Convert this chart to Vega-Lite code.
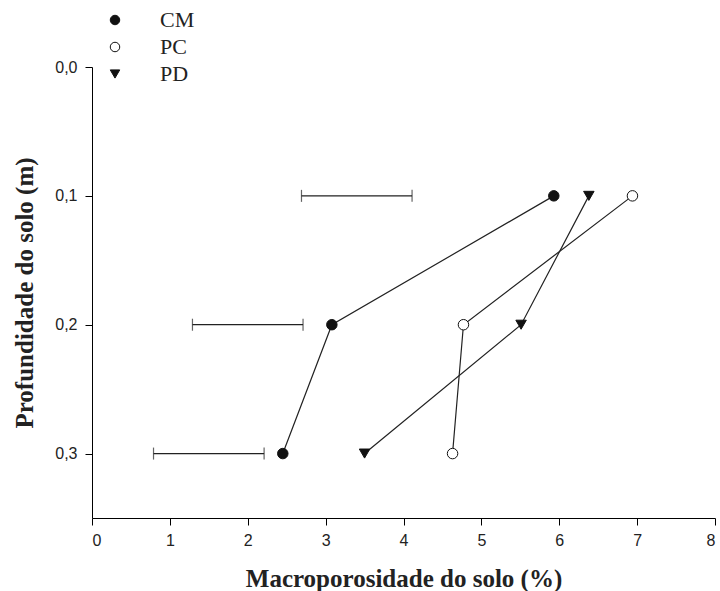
{
  "$schema": "https://vega.github.io/schema/vega-lite/v6.json",
  "width": 623,
  "height": 451,
  "autosize": {"type": "none"},
  "padding": {"left": 92, "top": 67, "right": 5, "bottom": 73},
  "background": "white",
  "config": {
    "view": {"stroke": null},
    "axis": {
      "grid": false,
      "domainColor": "black",
      "tickColor": "black",
      "tickSize": 7,
      "labelFont": "Liberation Sans",
      "labelFontSize": 16,
      "labelColor": "#222",
      "titleFont": "Liberation Serif",
      "titleFontSize": 25,
      "titleFontWeight": "bold",
      "titleColor": "#222"
    }
  },
  "datasets": {
    "pts": [
      {"trat": "CM", "prof": 0.1, "macro": 5.93},
      {"trat": "CM", "prof": 0.2, "macro": 3.08},
      {"trat": "CM", "prof": 0.3, "macro": 2.45},
      {"trat": "PC", "prof": 0.1, "macro": 6.94},
      {"trat": "PC", "prof": 0.2, "macro": 4.77},
      {"trat": "PC", "prof": 0.3, "macro": 4.63},
      {"trat": "PD", "prof": 0.1, "macro": 6.38},
      {"trat": "PD", "prof": 0.2, "macro": 5.51},
      {"trat": "PD", "prof": 0.3, "macro": 3.5}
    ],
    "dms": [
      {"prof": 0.1, "lo": 2.69, "hi": 4.11},
      {"prof": 0.2, "lo": 1.29, "hi": 2.71},
      {"prof": 0.3, "lo": 0.79, "hi": 2.21}
    ]
  },
  "layer": [
    {
      "data": {"name": "dms"},
      "mark": {"type": "rule", "color": "#222", "strokeWidth": 1.2},
      "encoding": {
        "x": {"field": "lo", "type": "quantitative"},
        "x2": {"field": "hi"},
        "y": {"field": "prof", "type": "quantitative"}
      }
    },
    {
      "data": {"name": "dms"},
      "mark": {"type": "tick", "orient": "vertical", "color": "#222", "size": 12, "thickness": 1.2},
      "encoding": {
        "x": {"field": "lo", "type": "quantitative"},
        "y": {"field": "prof", "type": "quantitative"}
      }
    },
    {
      "data": {"name": "dms"},
      "mark": {"type": "tick", "orient": "vertical", "color": "#222", "size": 12, "thickness": 1.2},
      "encoding": {
        "x": {"field": "hi", "type": "quantitative"},
        "y": {"field": "prof", "type": "quantitative"}
      }
    },
    {
      "data": {"name": "pts"},
      "mark": {"type": "line", "color": "#222", "strokeWidth": 1.2},
      "encoding": {
        "x": {"field": "macro", "type": "quantitative"},
        "y": {"field": "prof", "type": "quantitative"},
        "detail": {"field": "trat"},
        "order": {"field": "prof"}
      }
    },
    {
      "data": {"name": "pts"},
      "mark": {"type": "point", "filled": true, "stroke": "#111", "strokeWidth": 1, "size": 110, "opacity": 1},
      "encoding": {
        "x": {
          "field": "macro", "type": "quantitative",
          "scale": {"domain": [0, 8], "nice": false, "zero": false},
          "axis": {"values": [0,1,2,3,4,5,6,7,8], "format": "d", "title": "Macroporosidade do solo (%)", "labelPadding": 7, "titlePadding": 18}
        },
        "y": {
          "field": "prof", "type": "quantitative",
          "scale": {"domain": [0, 0.35], "reverse": true, "nice": false, "zero": false},
          "axis": {"values": [0, 0.1, 0.2, 0.3], "labelExpr": "replace(format(datum.value, '.1f'), '.', ',')", "title": "Profundidade do solo (m)", "labelPadding": 8, "titlePadding": 17}
        },
        "fill": {
          "field": "trat", "type": "nominal",
          "scale": {"domain": ["CM", "PC", "PD"], "range": ["#111", "white", "#111"]},
          "legend": {
            "title": null,
            "orient": "none",
            "legendX": 12,
            "legendY": -58,
            "labelFont": "Liberation Serif",
            "labelFontSize": 22,
            "labelColor": "#222",
            "labelOffset": 34,
            "rowPadding": 5,
            "symbolSize": 90,
            "symbolStrokeColor": "#111",
            "symbolStrokeWidth": 1
          }
        },
        "shape": {
          "field": "trat", "type": "nominal",
          "scale": {"domain": ["CM", "PC", "PD"], "range": ["circle", "circle", "triangle-down"]}
        }
      }
    }
  ]
}
